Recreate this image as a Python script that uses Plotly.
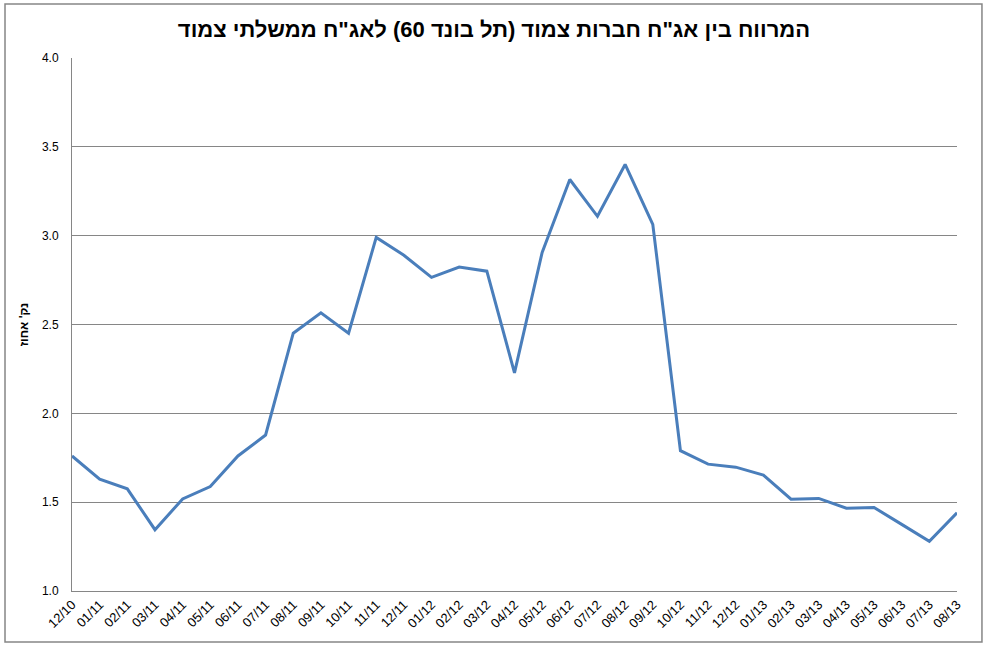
import plotly.graph_objects as go

# monthly spread, corporate bonds (Tel Bond 60) vs CPI-linked government bonds
months = ["12/10", "01/11", "02/11", "03/11", "04/11", "05/11", "06/11", "07/11",
          "08/11", "09/11", "10/11", "11/11", "12/11", "01/12", "02/12", "03/12",
          "04/12", "05/12", "06/12", "07/12", "08/12", "09/12", "10/12", "11/12",
          "12/12", "01/13", "02/13", "03/13", "04/13", "05/13", "06/13", "07/13",
          "08/13"]
spread = [1.76, 1.63, 1.575, 1.345, 1.518, 1.588, 1.76, 1.878,
          2.451, 2.566, 2.451, 2.99, 2.89, 2.765, 2.823, 2.80,
          2.228, 2.906, 3.316, 3.109, 3.401, 3.064, 1.79, 1.714,
          1.697, 1.652, 1.517, 1.521, 1.466, 1.47, 1.375, 1.28,
          1.44]

title_text = "המרווח בין אג\"ח חברות צמוד (תל בונד 60) לאג\"ח ממשלתי צמוד"
ytitle = "נק' אחוז"

fig = go.Figure()
fig.add_trace(go.Scatter(x=months, y=spread, mode="lines",
                         line=dict(color="#4a7ebb", width=3),
                         showlegend=False, hoverinfo="x+y"))

fig.update_layout(
    width=988, height=648,
    margin=dict(l=72, r=31, t=58, b=57, autoexpand=False),
    paper_bgcolor="white", plot_bgcolor="white",
    font=dict(family="Liberation Sans, Arial, sans-serif", size=12, color="black"),
    title=dict(text="<b>" + title_text + "</b>", x=0.5, xanchor="center",
               y=0.955, yanchor="middle",
               font=dict(family="Liberation Sans, Arial, sans-serif", size=22, color="black")),
)
fig.update_xaxes(type="category", range=[0, len(months) - 1],
                 showline=True, linecolor="#868686", linewidth=1,
                 showgrid=False, ticks="", tickangle=-45,
                 tickfont=dict(size=13))
fig.update_yaxes(range=[1.0, 4.0], dtick=0.5, tickformat=".1f",
                 showline=True, linecolor="#868686", linewidth=1,
                 showgrid=True, gridcolor="#868686", gridwidth=1,
                 zeroline=False, ticks="", tickfont=dict(size=12),
                 ticklabelstandoff=10,
                 title=dict(text="<b>" + ytitle + "</b>", standoff=10,
                            font=dict(size=12)))

# outer chart frame
fig.add_shape(type="rect", xref="paper", yref="paper",
              x0=-0.0757, x1=1.0282, y0=-0.0957, y1=1.1013,
              line=dict(color="#868686", width=1.5))

fig.write_html("out.html", config={"displayModeBar": False},
               post_script="document.body.style.margin='0px';")
